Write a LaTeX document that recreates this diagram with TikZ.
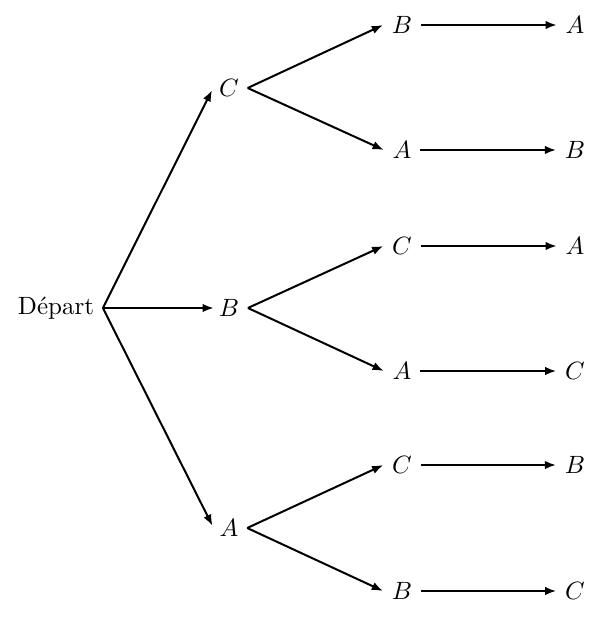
\documentclass[tikz,border=0pt]{standalone}
\usetikzlibrary{arrows.meta}
\begin{document}
\begin{tikzpicture}[x=0.4pt,y=-0.4pt,
  lbl/.style={inner sep=3.33pt},
  arr/.style={thick,-{Latex[length=4.5pt,width=3.4pt]}},
  arrone/.style={arr,shorten >=-1.5pt}]
\useasboundingbox (0,0) rectangle (603,618);
\node[lbl] (d) at (56,308) {Départ};
\node[lbl] (c1) at (229,88) {$C$};
\node[lbl] (b1) at (229,308) {$B$};
\node[lbl] (a1) at (229,528) {$A$};
\node[lbl] (c1b) at (402,25) {$B$};
\node[lbl] (c1a) at (402,150) {$A$};
\node[lbl] (b1c) at (402,246) {$C$};
\node[lbl] (b1a) at (402,371) {$A$};
\node[lbl] (a1c) at (402,465) {$C$};
\node[lbl] (a1b) at (402,591) {$B$};
\node[lbl] (c1ba) at (575,25) {$A$};
\node[lbl] (c1ab) at (575,150) {$B$};
\node[lbl] (b1ca) at (575,246) {$A$};
\node[lbl] (b1ac) at (575,371) {$C$};
\node[lbl] (a1cb) at (575,465) {$B$};
\node[lbl] (a1bc) at (575,591) {$C$};
\draw[arrone] (d.east) -- ([yshift=-2.2pt]c1.west);
\draw[arrone] (d.east) -- (b1.west);
\draw[arrone] (d.east) -- ([yshift=2.2pt]a1.west);
\foreach \p/\c in {c1/c1b,c1/c1a,b1/b1c,b1/b1a,a1/a1c,a1/a1b,
  c1b/c1ba,c1a/c1ab,b1c/b1ca,b1a/b1ac,a1c/a1cb,a1b/a1bc}
  \draw[arr] (\p.east) -- (\c.west);
\end{tikzpicture}
\end{document}
